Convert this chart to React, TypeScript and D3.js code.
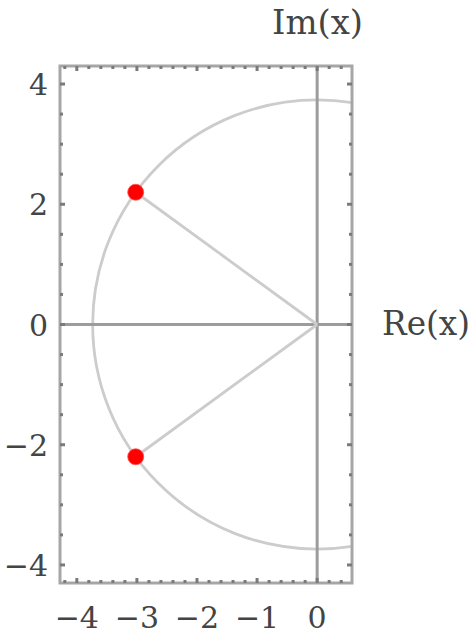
import React from "react";
import * as d3 from "d3";

// roots plotted in the complex plane
const rootsRe = [-3.02, -3.02];
const rootsIm = [2.2, -2.2];

const xTicks = [-4, -3, -2, -1, 0];
const yTicks = [-4, -2, 0, 2, 4];
const xDomain = [-4.28, 0.58];
const yDomain = [-4.3, 4.3];

export default function App() {
  const svgRef = React.useRef(null);
  const W = 473, H = 639;
  const left = 60, right = 352, top = 66, bottom = 583;

  React.useEffect(() => {
    const x = d3.scaleLinear().domain(xDomain).range([left, right]);
    const y = d3.scaleLinear().domain(yDomain).range([bottom, top]);
    const svg = d3.select(svgRef.current);
    svg.selectAll("*").remove();

    svg.append("defs").append("clipPath").attr("id", "plotclip")
      .append("rect").attr("x", left).attr("y", top)
      .attr("width", right - left).attr("height", bottom - top);

    const plot = svg.append("g").attr("clip-path", "url(#plotclip)");

    const r = Math.hypot(rootsRe[0], rootsIm[0]);
    plot.append("ellipse")
      .attr("cx", x(0)).attr("cy", y(0))
      .attr("rx", x(r) - x(0)).attr("ry", y(0) - y(r))
      .attr("fill", "none").attr("stroke", "#cccccc").attr("stroke-width", 2.8);

    // axes through origin
    plot.append("line").attr("x1", left).attr("x2", right)
      .attr("y1", y(0)).attr("y2", y(0))
      .attr("stroke", "#9c9c9c").attr("stroke-width", 3);
    plot.append("line").attr("x1", x(0)).attr("x2", x(0))
      .attr("y1", top).attr("y2", bottom)
      .attr("stroke", "#9c9c9c").attr("stroke-width", 3);

    rootsRe.forEach((re, i) => {
      plot.append("line").attr("x1", x(0)).attr("y1", y(0))
        .attr("x2", x(re)).attr("y2", y(rootsIm[i]))
        .attr("stroke", "#cccccc").attr("stroke-width", 2.8);
    });

    // frame
    svg.append("rect").attr("x", left).attr("y", top)
      .attr("width", right - left).attr("height", bottom - top)
      .attr("fill", "none").attr("stroke", "#a6a6a6").attr("stroke-width", 3);

    // ticks
    const tickCol = "#7a7a7a";
    const xMinor = d3.range(-4.2, 0.6, 0.2);
    xMinor.forEach(v => {
      const major = Math.abs(v - Math.round(v)) < 1e-6;
      const len = major ? 5 : 3;
      const px = x(v);
      svg.append("line").attr("x1", px).attr("x2", px)
        .attr("y1", bottom).attr("y2", bottom - len)
        .attr("stroke", tickCol).attr("stroke-width", 3);
      svg.append("line").attr("x1", px).attr("x2", px)
        .attr("y1", top).attr("y2", top + len)
        .attr("stroke", tickCol).attr("stroke-width", 3);
    });
    const yMinor = d3.range(-4, 4.01, 0.5);
    yMinor.forEach(v => {
      const major = Math.abs(v - Math.round(v)) < 1e-6 && v % 2 === 0;
      const len = major ? 5 : 3;
      const py = y(v);
      svg.append("line").attr("x1", left).attr("x2", left + len)
        .attr("y1", py).attr("y2", py)
        .attr("stroke", tickCol).attr("stroke-width", 3);
      svg.append("line").attr("x1", right).attr("x2", right - len)
        .attr("y1", py).attr("y2", py)
        .attr("stroke", tickCol).attr("stroke-width", 3);
    });

    const font = "'DejaVu Serif', serif";
    const fmt = (v: number) => (v < 0 ? "\u2212" + Math.abs(v) : String(v));
    svg.selectAll(".xl").data(xTicks).enter().append("text")
      .attr("x", d => x(d)).attr("y", 628)
      .attr("text-anchor", "middle")
      .attr("font-family", font).attr("font-size", 30).attr("fill", "#444")
      .text(d => fmt(d));
    svg.selectAll(".yl").data(yTicks).enter().append("text")
      .attr("x", 48).attr("y", d => y(d) + 11)
      .attr("text-anchor", "end")
      .attr("font-family", font).attr("font-size", 30).attr("fill", "#444")
      .text(d => fmt(d));

    svg.append("text").attr("x", 272).attr("y", 34)
      .attr("font-family", font).attr("font-size", 33).attr("fill", "#444")
      .attr("textLength", 91).attr("lengthAdjust", "spacingAndGlyphs")
      .text("Im(x)");
    svg.append("text").attr("x", 382).attr("y", 335)
      .attr("font-family", font).attr("font-size", 33).attr("fill", "#444")
      .attr("textLength", 88).attr("lengthAdjust", "spacingAndGlyphs")
      .text("Re(x)");

    rootsRe.forEach((re, i) => {
      svg.append("circle").attr("cx", x(re)).attr("cy", y(rootsIm[i]))
        .attr("r", 8).attr("fill", "#ff0000")
        .attr("stroke", "#ff5050").attr("stroke-width", 0.8);
    });
  }, []);

  return (
    <svg ref={svgRef} width={W} height={H}
      style={{ position: "absolute", left: 0, top: 0, background: "#fff" }} />
  );
}
